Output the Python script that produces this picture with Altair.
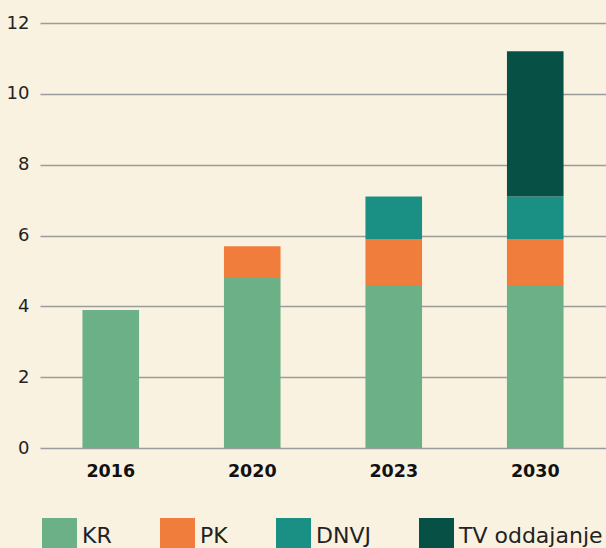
import altair as alt
import pandas as pd

years = ["2016", "2020", "2023", "2030"]
series = ["KR", "PK", "DNVJ", "TV oddajanje"]
kr = [3.9, 4.8, 4.6, 4.6]
pk = [0.0, 0.9, 1.3, 1.3]
dnvj = [0.0, 0.0, 1.2, 1.2]
tv = [0.0, 0.0, 0.0, 4.1]
colors = ["#6BB087", "#F07D3C", "#1A9085", "#075046"]

rows = []
for i, y in enumerate(years):
    for j, (s, vals) in enumerate(zip(series, [kr, pk, dnvj, tv])):
        rows.append({"year": y, "series": s, "value": vals[i], "ord": j})
df = pd.DataFrame(rows)

FONT = "DejaVu Sans"

chart = alt.Chart(df).mark_bar().encode(
    x=alt.X("year:N", sort=years, title=None,
            scale=alt.Scale(paddingInner=0.6, paddingOuter=0.3),
            axis=alt.Axis(labelAngle=0, labelFontSize=17.5, labelFontWeight="bold",
                          labelColor="#111", labelPadding=14, domain=False, ticks=False,
                          labelFont=FONT)),
    y=alt.Y("value:Q", stack="zero", title=None,
            scale=alt.Scale(domain=[0, 12], nice=False),
            axis=alt.Axis(values=[0, 2, 4, 6, 8, 10, 12], labelFontSize=18,
                          labelColor="#222", labelPadding=11, domain=False, ticks=False,
                          gridColor="#9c9c9c", gridWidth=1.5, labelFont=FONT)),
    color=alt.Color("series:N", sort=series,
                    scale=alt.Scale(domain=series, range=colors),
                    legend=alt.Legend(title=None, orient="none", direction="horizontal",
                                      legendX=2, legendY=495, symbolType="square",
                                      symbolSize=1225, symbolStrokeWidth=0,
                                      symbolOpacity=1,
                                      labelFontSize=22, labelColor="#222",
                                      labelFont=FONT, labelOffset=5,
                                      columnPadding=48)),
    order=alt.Order("ord:Q", sort="ascending"),
).properties(
    width=566, height=425,
    autosize=alt.AutoSizeParams(type="none"),
    padding={"left": 40, "top": 23, "right": 0, "bottom": 100},
    background="#FAF2E1",
).configure_view(stroke=None)

chart.save("out.html", embed_options={"renderer": "svg", "actions": False})
